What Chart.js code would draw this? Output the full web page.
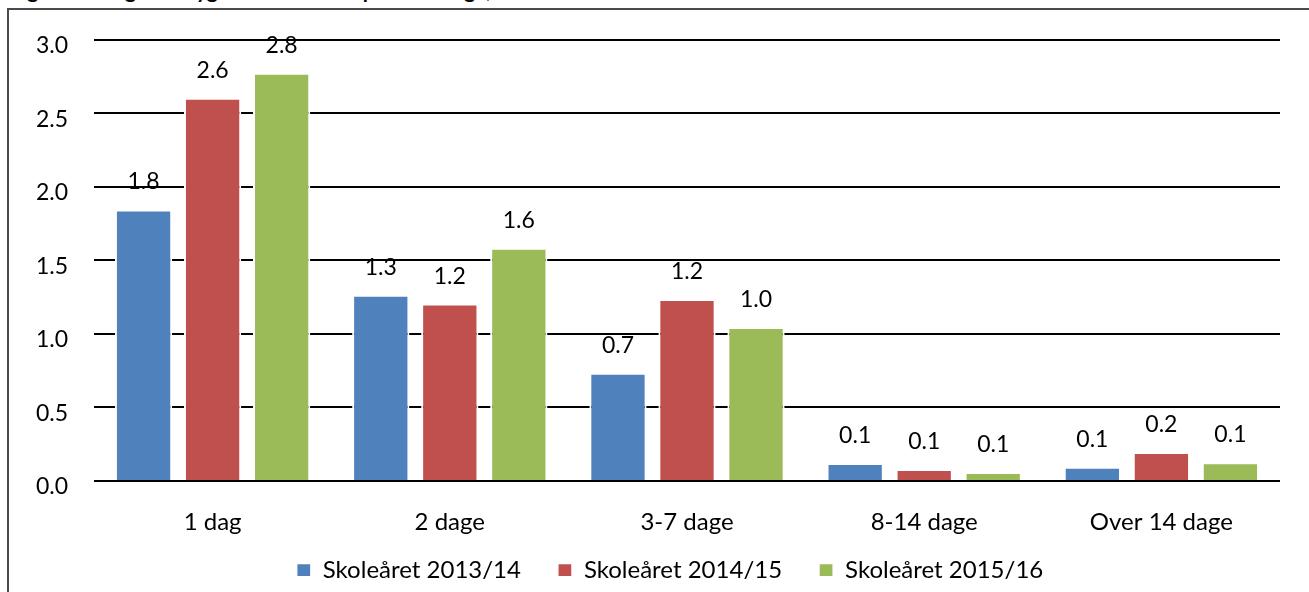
<!DOCTYPE html>
<html><head><meta charset="utf-8">
<script src="https://cdn.jsdelivr.net/npm/chart.js@4/dist/chart.umd.min.js"></script>
<style>
html,body{margin:0;padding:0;background:#fff;overflow:hidden;width:1309px;height:592px}
#frame{position:absolute;left:7px;top:8px;width:1400px;height:700px;border:2px solid #4a4a4a;box-sizing:border-box}
#title{position:absolute;left:10px;top:-23px;font:bold 21px Lato, sans-serif;white-space:nowrap;color:#000}
#wrap{position:absolute;left:0;top:0;width:1309px;height:592px}
</style></head>
<body>
<div id="title">Figur 4: Længde af sygefravær fordelt på antal dage, 2013/14 - 2015/16</div>
<div id="frame"></div>
<div id="wrap"><canvas id="c"></canvas></div>
<script>
const categories = ['1 dag', '2 dage', '3-7 dage', '8-14 dage', 'Over 14 dage'];
const seriesNames = ['Skoleåret 2013/14', 'Skoleåret 2014/15', 'Skoleåret 2015/16'];
const values2013 = [1.84, 1.26, 0.73, 0.115, 0.09];
const values2014 = [2.60, 1.20, 1.23, 0.075, 0.19];
const values2015 = [2.77, 1.58, 1.04, 0.055, 0.12];
const yTickValues = [0, 0.5, 1.0, 1.5, 2.0, 2.5, 3.0];
const seriesColors = ['#4F81BD', '#C0504D', '#9BBB59'];

const FONT = 'Lato, "Noto Sans", sans-serif';
const FS = 23;
const allValues = [values2013, values2014, values2015];

const barLabels = {
  id: 'barLabels',
  afterDatasetsDraw(chart) {
    const ctx = chart.ctx;
    ctx.save();
    ctx.font = FS + 'px ' + FONT;
    ctx.fillStyle = '#000';
    ctx.textAlign = 'center';
    ctx.textBaseline = 'alphabetic';
    chart.data.datasets.forEach((ds, i) => {
      const meta = chart.getDatasetMeta(i);
      meta.data.forEach((el, j) => {
        ctx.fillText(Number(ds.data[j]).toFixed(1), el.x, el.y - 21);
      });
    });
    ctx.restore();
  }
};

const legendShift = {
  id: 'legendShift',
  afterLayout(chart) {
    const lg = chart.legend;
    if (lg) {
      const h = lg.bottom - lg.top;
      lg.left += 26; lg.right += 26;
      lg.top = 521; lg.bottom = 521 + h;
    }
  }
};

new Chart(document.getElementById('c'), {
  type: 'bar',
  data: {
    labels: categories,
    datasets: seriesNames.map((n, i) => ({
      label: n,
      data: allValues[i],
      backgroundColor: seriesColors[i],
      borderColor: '#ffffff',
      borderWidth: {top: 1, left: 2, right: 2, bottom: 0},
      borderSkipped: false,
      categoryPercentage: 0.873,
      barPercentage: 0.83
    }))
  },
  options: {
    responsive: true,
    maintainAspectRatio: false,
    animation: false,
    layout: {padding: {left: 8, right: 29, top: 39, bottom: -15}},
    plugins: {
      legend: {
        position: 'bottom',
        labels: {
          font: {family: FONT, size: 24},
          color: '#000',
          boxWidth: 14,
          boxHeight: 13,
          padding: 37
        }
      },
      tooltip: {enabled: false},
      title: {display: false}
    },
    scales: {
      x: {
        grid: {display: false, drawTicks: false},
        border: {display: false},
        ticks: {font: {family: FONT, size: 24}, color: '#000', padding: 27},
        afterFit(scale) { scale.height = 55; }
      },
      y: {
        min: 0,
        max: 3,
        afterBuildTicks(scale) { scale.ticks = yTickValues.map(v => ({value: v})); },
        ticks: {
          font: {family: FONT, size: FS},
          color: '#000',
          padding: 26,
          labelOffset: 6,
          callback: v => Number(v).toFixed(1)
        },
        grid: {color: '#000', lineWidth: 2, drawTicks: false},
        border: {display: false},
        afterFit(scale) { scale.width = 86; }
      }
    }
  },
  plugins: [barLabels, legendShift]
});
</script>
</body></html>
